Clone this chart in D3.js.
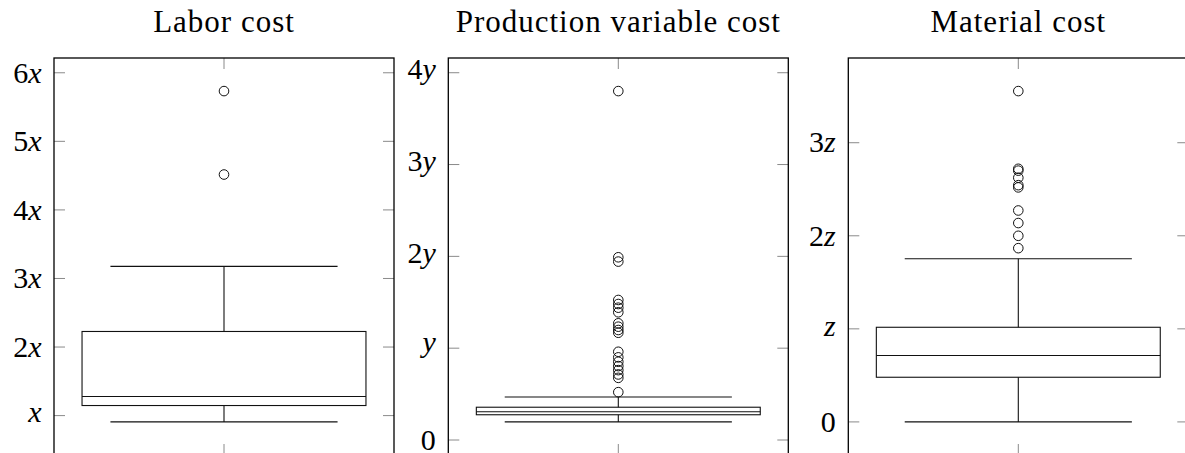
<!DOCTYPE html>
<html>
<head>
<meta charset="utf-8">
<script src="https://cdn.jsdelivr.net/npm/d3@7"></script>
<style>
body { margin: 0; background: #fff; }
text { font-family: "Liberation Serif", "DejaVu Serif", serif; fill: #000; }
</style>
</head>
<body>
<div id="chart"></div>
<script>
// panel titles and y tick labels (values in units of x, y, z)
const titles = ["Labor cost", "Production variable cost", "Material cost"];
const tickValues = [[1, 2, 3, 4, 5, 6], [0, 1, 2, 3, 4], [0, 1, 2, 3]];
const tickLabels = [["x", "2x", "3x", "4x", "5x", "6x"], ["0", "y", "2y", "3y", "4y"], ["0", "z", "2z", "3z"]];

// box stats: lower whisker, q1, median, q3, upper whisker
const laborBox = [0.908, 1.147, 1.278, 2.227, 3.177];
const productionBox = [0.197, 0.275, 0.308, 0.357, 0.469];
const materialBox = [0, 0.480, 0.713, 1.017, 1.753];

// outliers
const laborOutliers = [4.516, 5.733];
const productionOutliers = [0.521, 0.677, 0.714, 0.761, 0.805, 0.852, 0.900, 0.961,
    1.168, 1.198, 1.234, 1.271, 1.391, 1.441, 1.481, 1.525, 1.943, 1.99, 3.80];
const materialOutliers = [1.867, 2.0, 2.137, 2.272, 2.52, 2.544, 2.624, 2.70, 2.72, 3.555];

const boxes = [laborBox, productionBox, materialBox];
const outliers = [laborOutliers, productionOutliers, materialOutliers];

const W = 1185, H = 453;
const panelLeft = [54, 448.3, 848.3];
const panelW = 340;
const plotTop = 58, plotBottom = 455;
const tickLen = 11;

const svg = d3.select("#chart").append("svg")
    .attr("width", W)
    .attr("height", H);

function labelShift(label) {
    const topInk = /\d/.test(label) ? 19.5 : 13.5;
    const bottomInk = /y/.test(label) ? 6 : 0;
    return (topInk - bottomInk) / 2;
}

titles.forEach((title, i) => {
    const box = boxes[i];
    const outs = outliers[i];
    const lo = d3.min([box[0], ...outs]);
    const hi = d3.max([box[4], ...outs]);
    const pad = (hi - lo) * 0.1;

    const x = d3.scaleLinear()
        .domain([0.521, 1.479])
        .range([panelLeft[i], panelLeft[i] + panelW]);

    const y = d3.scaleLinear()
        .domain([lo - pad, hi + pad])
        .range([plotBottom, plotTop]);

    const g = svg.append("g");

    // ticks (inward, gray)
    const ticks = g.append("g")
        .attr("stroke", "#8a8a8a")
        .attr("stroke-width", 1);

    tickValues[i].forEach(v => {
        ticks.append("line")
            .attr("x1", x.range()[0]).attr("x2", x.range()[0] + tickLen)
            .attr("y1", y(v)).attr("y2", y(v));
        ticks.append("line")
            .attr("x1", x.range()[1] - tickLen).attr("x2", x.range()[1])
            .attr("y1", y(v)).attr("y2", y(v));
    });
    ticks.append("line")
        .attr("x1", x(1)).attr("x2", x(1))
        .attr("y1", plotTop).attr("y2", plotTop + tickLen);
    ticks.append("line")
        .attr("x1", x(1)).attr("x2", x(1))
        .attr("y1", plotBottom - tickLen).attr("y2", plotBottom);

    // tick labels
    tickValues[i].forEach((v, k) => {
        const label = tickLabels[i][k];
        const t = g.append("text")
            .attr("x", x.range()[0] - 12.5)
            .attr("y", y(v) + labelShift(label))
            .attr("text-anchor", "end")
            .style("font-size", "30px");
        const m = label.match(/^(\d*)([a-z]?)$/);
        if (m[1]) t.append("tspan").text(m[1]);
        if (m[2]) t.append("tspan").style("font-style", "italic").text(m[2]);
    });

    // box plot
    const bp = g.append("g")
        .attr("fill", "none")
        .attr("stroke", "#111")
        .attr("stroke-width", 1.1);

    bp.append("line")
        .attr("x1", x(1)).attr("x2", x(1))
        .attr("y1", y(box[0])).attr("y2", y(box[1]));
    bp.append("line")
        .attr("x1", x(1)).attr("x2", x(1))
        .attr("y1", y(box[3])).attr("y2", y(box[4]));
    [box[0], box[4]].forEach(v => {
        bp.append("line")
            .attr("x1", x(0.68)).attr("x2", x(1.32))
            .attr("y1", y(v)).attr("y2", y(v));
    });
    bp.append("rect")
        .attr("x", x(0.6))
        .attr("y", y(box[3]))
        .attr("width", x(1.4) - x(0.6))
        .attr("height", y(box[1]) - y(box[3]));
    bp.append("line")
        .attr("x1", x(0.6)).attr("x2", x(1.4))
        .attr("y1", y(box[2])).attr("y2", y(box[2]));

    bp.selectAll("circle")
        .data(outs)
        .enter()
        .append("circle")
        .attr("cx", x(1))
        .attr("cy", d => y(d))
        .attr("r", 4.8)
        .attr("stroke-width", 1);

    // frame
    g.append("rect")
        .attr("x", x.range()[0])
        .attr("y", plotTop)
        .attr("width", panelW)
        .attr("height", plotBottom - plotTop)
        .attr("fill", "none")
        .attr("stroke", "#000")
        .attr("stroke-width", 1.3);

    // title
    g.append("text")
        .attr("x", x(1))
        .attr("y", 32.3)
        .attr("text-anchor", "middle")
        .style("font-size", "31px")
        .style("letter-spacing", "1px")
        .text(title);
});
</script>
</body>
</html>
